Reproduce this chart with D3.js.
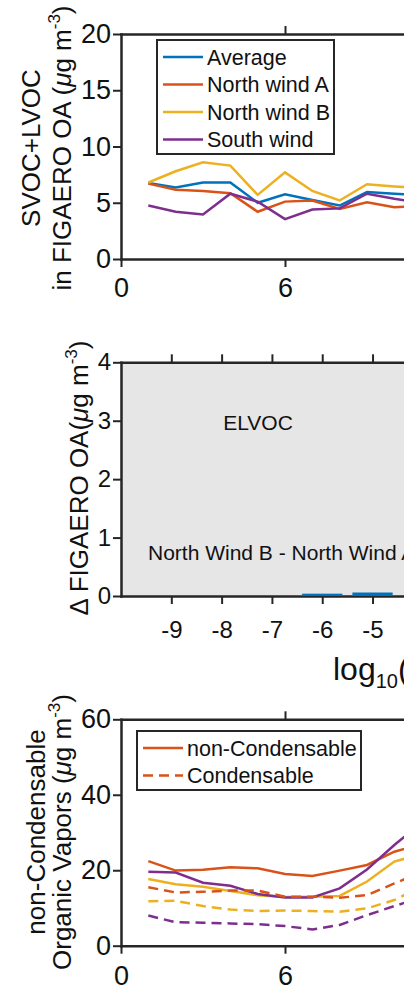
<!DOCTYPE html>
<html>
<head>
<meta charset="utf-8">
<script src="https://cdnjs.cloudflare.com/ajax/libs/d3/7.8.5/d3.min.js"></script>
<style>
	body { margin:0; background:#fff; }
	svg { display:block; font-family:"Liberation Sans", Arial, sans-serif; }
</style>
</head>
<body>
<script>
var w = 404;
var h = 986;

// top panel: SVOC+LVOC in FIGAERO OA
var days = [1,2,3,4,5,6,7,8,9,10,11];
var average = [6.75,6.35,6.8,6.8,5.0,5.75,5.25,4.75,5.95,5.8,5.7];
var northA = [6.7,6.15,6.05,5.85,4.2,5.1,5.2,4.45,5.05,4.6,4.7];
var northB = [6.8,7.8,8.6,8.3,5.7,7.7,6.05,5.2,6.65,6.45,6.3];
var south = [4.75,4.2,3.95,5.8,5.1,3.55,4.4,4.5,5.8,5.35,5.0];
var names1 = ["Average","North wind A","North wind B","South wind"];
var yTicks1 = [0,5,10,15,20];
var xTicks = [0,6,12];

// middle panel: difference in volatility bins
var logBins = [-10,-9,-8,-7,-6,-5];
var deltaOA = [0,0,0,0,0.04,0.06];
var yTicks2 = [0,1,2,3,4];
var xTicks2 = [-9,-8,-7,-6,-5,-4];

// bottom panel: organic vapors
var nonCondA = [22.4,19.9,20.1,20.8,20.5,19.0,18.5,19.9,21.4,24.9,27.0];
var nonCondB = [17.7,16.3,15.6,14.5,13.4,12.9,13.0,13.2,17.0,22.3,24.3];
var nonCondS = [19.6,19.4,16.7,15.9,13.7,12.8,12.8,15.2,20.2,26.7,32.5];
var condA = [15.5,14.1,14.3,14.6,14.6,13.0,13.0,12.7,13.4,16.5,19.5];
var condB = [11.8,11.9,10.5,9.6,9.2,9.3,9.2,9.0,9.9,12.1,15.7];
var condS = [8.0,6.2,6.1,5.9,5.7,5.2,4.3,5.5,8.1,10.5,12.8];
var names3 = ["non-Condensable","Condensable"];
var yTicks3 = [0,20,40,60];

var colors = ["#0072BD","#D95319","#EDB120","#7E2F8E"];
var ink = "#262626";
var plain = function(d){ return String(d); };

var svg = d3.select("body")
	.append("svg")
	.attr("width", w)
	.attr("height", h);

function frame(x, y, xt, yt, fs, padX, top) {
	var g = svg.append("g");
	var x0 = x.range()[0], y0 = y.range()[0], y1 = y.range()[1];

	g.append("g")
		.attr("transform", "translate(0," + y0 + ")")
		.call(d3.axisBottom(x).tickValues(xt).tickSize(8).tickSizeOuter(0).tickPadding(padX).tickFormat(plain));
	g.append("g")
		.attr("transform", "translate(0," + y1 + ")")
		.call(d3.axisTop(x).tickValues(top).tickSize(8).tickSizeOuter(0).tickFormat(""));
	g.append("g")
		.attr("transform", "translate(" + x0 + ",0)")
		.call(d3.axisLeft(y).tickValues(yt).tickSize(8).tickSizeOuter(0).tickPadding(2).tickFormat(plain));

	g.selectAll(".domain").attr("stroke", ink).attr("stroke-width", 2.5).attr("stroke-linecap", "square");
	g.selectAll(".tick line").attr("stroke", ink).attr("stroke-width", 2);
	g.selectAll(".tick text")
		.attr("fill", "#111")
		.style("font-size", fs + "px")
		.style("font-family", "'Liberation Sans', Arial, sans-serif");
	return g;
}

function ylabel(bx, cy, lines) {
	var t = svg.append("g")
		.attr("transform", "translate(" + bx + "," + cy + ") rotate(-90)");
	lines.forEach(function(l) {
		var txt = t.append("text")
			.attr("x", 0)
			.attr("y", l.dy)
			.attr("text-anchor", "middle")
			.attr("fill", "#111")
			.style("font-size", "26px");
		txt.append("tspan").text(l.text);
		if (l.unit) {
			txt.append("tspan").style("font-style", "italic").text("\u03bc");
			txt.append("tspan").text("g m");
			txt.append("tspan").attr("dy", -11).style("font-size", "17px").text("-3");
			txt.append("tspan").attr("dy", 11).text(")");
		}
	});
}

function legend(x0, y0, bw, bh, rows) {
	svg.append("rect")
		.attr("x", x0).attr("y", y0)
		.attr("width", bw).attr("height", bh)
		.attr("fill", "#fff")
		.attr("stroke", ink)
		.attr("stroke-width", 2);
	rows.forEach(function(r, i) {
		var cy = y0 + 17 + i * 27.5;
		svg.append("line")
			.attr("x1", x0 + 6).attr("x2", x0 + 46)
			.attr("y1", cy).attr("y2", cy)
			.attr("stroke", r.color)
			.attr("stroke-width", 2.5)
			.attr("stroke-dasharray", r.dash || null);
		svg.append("text")
			.attr("x", x0 + 50).attr("y", cy + 7.5)
			.attr("fill", "#111")
			.style("font-size", "21.5px")
			.text(r.name);
	});
}

// ---- panel 1
var x1 = d3.scaleLinear().domain([0,12]).range([121, 449]);
var y1 = d3.scaleLinear().domain([0,20]).range([259, 34]);
var line1 = d3.line()
	.x(function(d){ return x1(d[0]); })
	.y(function(d){ return y1(d[1]); });

[average, northA, northB, south].forEach(function(s, i) {
	svg.append("path")
		.datum(days.map(function(d, j){ return [d, s[j]]; }))
		.attr("d", line1)
		.attr("fill", "none")
		.attr("stroke", colors[i])
		.attr("stroke-width", 2.5);
});
frame(x1, y1, xTicks, yTicks1, 27, 11, [6,12]);
legend(157, 40, 177, 114, names1.map(function(n, i){ return {name:n, color:colors[i]}; }));
ylabel(40, 148, [
	{text:"SVOC+LVOC", dy:0},
	{text:"in FIGAERO OA (", dy:31, unit:true}
]);

// ---- panel 2
var x2 = d3.scaleLinear().domain([-10,-3.5]).range([121, 448]);
var y2 = d3.scaleLinear().domain([0,4]).range([596, 362.3]);

svg.append("rect")
	.attr("x", x2(-10)).attr("y", y2(4))
	.attr("width", x2(-3.5) - x2(-10))
	.attr("height", y2(0) - y2(4))
	.attr("fill", "#e6e6e6");
frame(x2, y2, xTicks2, yTicks2, 24, 17, xTicks2);
svg.selectAll(".bar")
	.data(logBins.map(function(b, i){ return [b, deltaOA[i]]; }))
	.enter()
	.append("rect")
	.attr("x", function(d){ return x2(d[0] - 0.4); })
	.attr("width", function(d){ return x2(d[0] + 0.4) - x2(d[0] - 0.4); })
	.attr("y", function(d){ return y2(d[1]); })
	.attr("height", function(d){ return y2(0) - y2(d[1]); })
	.attr("fill", colors[0]);

svg.append("text")
	.attr("x", 258).attr("y", 430)
	.attr("text-anchor", "middle")
	.attr("fill", "#111")
	.style("font-size", "21px")
	.text("ELVOC");
svg.append("text")
	.attr("x", 148).attr("y", 560)
	.attr("fill", "#111")
	.style("font-size", "21px")
	.text("North Wind B - North Wind A");

var p2 = svg.append("g").attr("transform", "translate(88,478) rotate(-90)");
var t2 = p2.append("text")
	.attr("text-anchor", "middle")
	.attr("fill", "#111")
	.style("font-size", "26px");
t2.append("tspan").text("\u0394 FIGAERO OA(");
t2.append("tspan").style("font-style", "italic").text("\u03bc");
t2.append("tspan").text("g m");
t2.append("tspan").attr("dy", -11).style("font-size", "17px").text("-3");
t2.append("tspan").attr("dy", 11).text(")");

var xl = svg.append("text")
	.attr("x", 333).attr("y", 680)
	.attr("fill", "#111")
	.style("font-size", "32px");
xl.append("tspan").text("log");
xl.append("tspan").attr("dy", 8).style("font-size", "20px").text("10");
xl.append("tspan").attr("dy", -8).text("(C*)");

// ---- panel 3
var x3 = d3.scaleLinear().domain([0,12]).range([121, 449]);
var y3 = d3.scaleLinear().domain([0,60]).range([945.7, 719.3]);
var line3 = d3.line()
	.x(function(d){ return x3(d[0]); })
	.y(function(d){ return y3(d[1]); });

var vap = [
	{v:nonCondA, c:colors[1]}, {v:nonCondB, c:colors[2]}, {v:nonCondS, c:colors[3]},
	{v:condA, c:colors[1], dash:"10,6"}, {v:condB, c:colors[2], dash:"10,6"}, {v:condS, c:colors[3], dash:"10,6"}
];
vap.forEach(function(s) {
	svg.append("path")
		.datum(days.map(function(d, j){ return [d, s.v[j]]; }))
		.attr("d", line3)
		.attr("fill", "none")
		.attr("stroke", s.c)
		.attr("stroke-width", 2.5)
		.attr("stroke-dasharray", s.dash || null);
});
frame(x3, y3, xTicks, yTicks3, 27, 12, [6,12]);
legend(137, 731, 224, 59, [
	{name:names3[0], color:colors[1]},
	{name:names3[1], color:colors[1], dash:"10,6"}
]);
ylabel(45, 832, [
	{text:"non-Condensable", dy:0},
	{text:"Organic Vapors (", dy:26, unit:true}
]);
</script>
</body>
</html>
